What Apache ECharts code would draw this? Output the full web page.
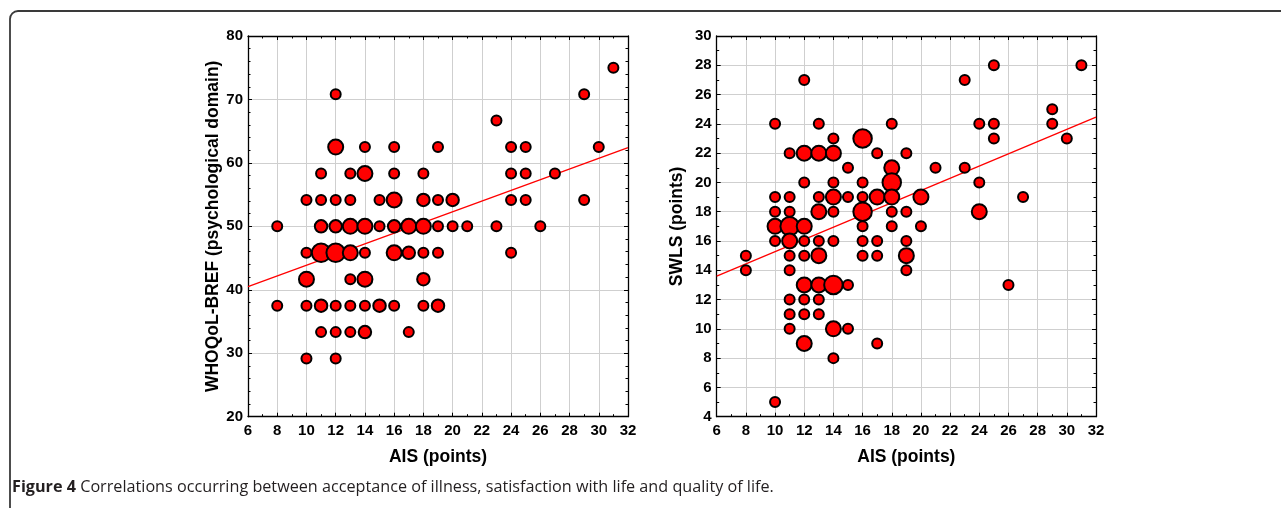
<!DOCTYPE html>
<html>
<head>
<meta charset="utf-8">
<script src="https://cdn.jsdelivr.net/npm/echarts@6/dist/echarts.min.js"></script>
<style>
html,body{margin:0;padding:0;background:#fff;}
#c{width:1281px;height:508px;}
</style>
</head>
<body>
<div id="c"></div>
<script>
// ---- Data (x = AIS points, y = score, n = overlapping observations) ----
const whoqolPoints = [
  [31,75,1],
  [12,70.83,1],[29,70.83,1],
  [23,66.67,1],
  [12,62.5,3],[14,62.5,1],[16,62.5,1],[19,62.5,1],[24,62.5,1],[25,62.5,1],[30,62.5,1],
  [11,58.33,1],[13,58.33,1],[14,58.33,3],[16,58.33,1],[18,58.33,1],[24,58.33,1],[25,58.33,1],[27,58.33,1],
  [10,54.17,1],[11,54.17,1],[12,54.17,1],[13,54.17,1],[15,54.17,1],[16,54.17,3],[18,54.17,2],[19,54.17,1],[20,54.17,2],[24,54.17,1],[25,54.17,1],[29,54.17,1],
  [8,50,1],[11,50,2],[12,50,2],[13,50,3],[14,50,3],[15,50,1],[16,50,2],[17,50,3],[18,50,3],[19,50,1],[20,50,1],[21,50,1],[23,50,1],[26,50,1],
  [10,45.83,1],[11,45.83,4],[12,45.83,4],[13,45.83,3],[14,45.83,1],[16,45.83,3],[17,45.83,2],[18,45.83,1],[19,45.83,1],[24,45.83,1],
  [10,41.67,3],[13,41.67,1],[14,41.67,3],[18,41.67,2],
  [8,37.5,1],[10,37.5,1],[11,37.5,2],[12,37.5,1],[13,37.5,1],[14,37.5,1],[15,37.5,2],[16,37.5,1],[18,37.5,1],[19,37.5,2],
  [11,33.33,1],[12,33.33,1],[13,33.33,1],[14,33.33,2],[17,33.33,1],
  [10,29.17,1],[12,29.17,1]
];
const swlsPoints = [
  [25,28,1],[31,28,1],
  [12,27,1],[23,27,1],
  [29,25,1],
  [10,24,1],[13,24,1],[18,24,1],[24,24,1],[25,24,1],[29,24,1],
  [14,23,1],[16,23,4],[25,23,1],[30,23,1],
  [11,22,1],[12,22,3],[13,22,3],[14,22,3],[17,22,1],[19,22,1],
  [15,21,1],[18,21,3],[21,21,1],[23,21,1],
  [12,20,1],[14,20,1],[16,20,1],[18,20,4],[24,20,1],
  [10,19,1],[11,19,1],[13,19,1],[14,19,3],[15,19,1],[16,19,1],[17,19,3],[18,19,3],[20,19,3],[27,19,1],
  [10,18,1],[11,18,1],[13,18,3],[14,18,1],[16,18,4],[18,18,1],[19,18,1],[24,18,3],
  [10,17,3],[11,17,4],[12,17,3],[16,17,1],[18,17,1],[20,17,1],
  [10,16,1],[11,16,3],[12,16,1],[13,16,1],[14,16,1],[16,16,1],[17,16,1],[19,16,1],
  [8,15,1],[11,15,1],[12,15,1],[13,15,3],[16,15,1],[17,15,1],[19,15,3],
  [8,14,1],[11,14,1],[19,14,1],
  [12,13,3],[13,13,3],[14,13,4],[15,13,1],[26,13,1],
  [11,12,1],[12,12,1],[13,12,1],
  [11,11,1],[12,11,1],[13,11,1],
  [11,10,1],[14,10,3],[15,10,1],
  [12,9,3],[17,9,1],
  [14,8,1],
  [10,5,1]
];
const whoqolFit = [[6,40.5],[32,62.4]];
const swlsFit = [[6,13.6],[32,24.46]];
const xTitle = 'AIS (points)';
const yTitleLeft = 'WHOQoL-BREF (psychological domain)';
const yTitleRight = 'SWLS (points)';
const captionLead = 'Figure 4';
const caption = 'Correlations occurring between acceptance of illness, satisfaction with life and quality of life.';

// ---- Styling ----
const FONT = 'Liberation Sans, Arial, sans-serif';
const sizeByCount = {1:10, 2:12.5, 3:15, 4:18.5};
const gridDefs = [
  {left:248, top:36, width:380, height:380.7},
  {left:716.7, top:36, width:379.3, height:380.7}
];
const yRanges = [{min:20,max:80,interval:10,minor:5,name:yTitleLeft,gap:26},
                 {min:4,max:30,interval:2,minor:2,name:yTitleRight,gap:31}];

const xAxes = [], yAxes = [];
gridDefs.forEach((g, i) => {
  const base = {
    gridIndex:i, type:'value', min:6, max:32, interval:2,
    axisLine:{show:true, onZero:false, lineStyle:{color:'#000', width:1.3}},
    axisTick:{show:true, inside:true, length:4, lineStyle:{color:'#000', width:1}},
    minorTick:{show:true, splitNumber:2, length:2.5, lineStyle:{color:'#000', width:1}},
  };
  xAxes.push(Object.assign({}, base, {
    position:'bottom',
    name:xTitle, nameLocation:'middle', nameGap:31,
    nameTextStyle:{fontFamily:FONT, fontWeight:'bold', fontSize:17.5, color:'#000'},
    axisLabel:{show:true, margin:7, fontFamily:FONT, fontWeight:'bold', fontSize:15, color:'#000'},
    splitLine:{show:true, lineStyle:{color:'#cfcfcf', width:1}}
  }));
  xAxes.push(Object.assign({}, base, {
    position:'top', axisLabel:{show:false}, splitLine:{show:false}
  }));
  const r = yRanges[i];
  const ybase = {
    gridIndex:i, type:'value', min:r.min, max:r.max, interval:r.interval,
    axisLine:{show:true, onZero:false, lineStyle:{color:'#000', width:1.3}},
    axisTick:{show:true, inside:true, length:4, lineStyle:{color:'#000', width:1}},
    minorTick:{show:true, splitNumber:r.minor, length:2.5, lineStyle:{color:'#000', width:1}},
  };
  yAxes.push(Object.assign({}, ybase, {
    position:'left',
    name:r.name, nameLocation:'middle', nameGap:r.gap,
    nameTextStyle:{fontFamily:FONT, fontWeight:'bold', fontSize:17.5, color:'#000'},
    axisLabel:{show:true, margin:5, fontFamily:FONT, fontWeight:'bold', fontSize:15, color:'#000'},
    splitLine:{show:true, lineStyle:{color:'#cfcfcf', width:1}}
  }));
  yAxes.push(Object.assign({}, ybase, {
    position:'right', axisLabel:{show:false}, splitLine:{show:false}
  }));
});

function scatterSeries(data, gi) {
  return {
    type:'scatter', xAxisIndex:gi*2, yAxisIndex:gi*2, data:data,
    symbol:'circle',
    symbolSize:(v) => sizeByCount[v[2]],
    itemStyle:{color:'#ff0000', borderColor:'#000', borderWidth:2, opacity:1},
    emphasis:{disabled:true}, z:3, animation:false
  };
}
function fitSeries(data, gi) {
  return {
    type:'line', xAxisIndex:gi*2, yAxisIndex:gi*2, data:data,
    showSymbol:false, symbol:'none',
    lineStyle:{color:'#ff0000', width:1.3},
    z:2, animation:false, silent:true
  };
}

const chart = echarts.init(document.getElementById('c'), null, {renderer:'canvas'});
chart.setOption({
  backgroundColor:'#fff',
  animation:false,
  grid: gridDefs.map(g => Object.assign({outerBoundsMode:'none', containLabel:false}, g)),
  xAxis: xAxes,
  yAxis: yAxes,
  series: [
    fitSeries(whoqolFit, 0), scatterSeries(whoqolPoints, 0),
    fitSeries(swlsFit, 1), scatterSeries(swlsPoints, 1)
  ],
  graphic: [
    {type:'rect', silent:true, z:-1,
     shape:{x:10, y:11, width:1400, height:700, r:8},
     style:{fill:'none', stroke:'#3a3a3a', lineWidth:1.8}},
    {type:'text', left:12, top:479, silent:true,
     style:{
       text:'{b|' + captionLead + '} ' + caption,
       rich:{b:{fontFamily:'Open Sans, sans-serif', fontWeight:'bold', fontSize:16.2, fill:'#231f20'}},
       fontFamily:'Open Sans, sans-serif', fontSize:16.2, fill:'#231f20'
     }}
  ]
});
</script>
</body>
</html>
